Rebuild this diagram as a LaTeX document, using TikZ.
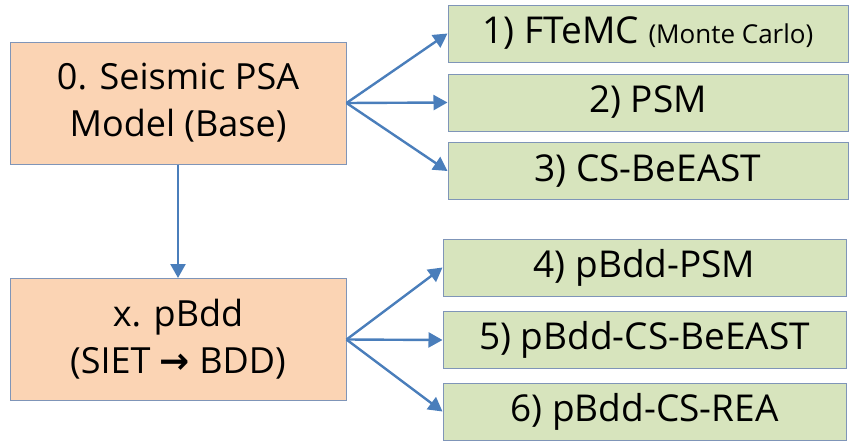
\documentclass[tikz,border=0pt]{standalone}
\usepackage{fontspec}
\setmainfont{Open Sans}
\newfontfamily\arrowfont{DejaVu Sans}
\usetikzlibrary{arrows.meta}
\definecolor{peach}{HTML}{FBD4B4}
\definecolor{sage}{HTML}{D7E4BD}
\definecolor{edgeblue}{HTML}{7F95B8}
\definecolor{arrowblue}{HTML}{4A7EBB}
\begin{document}
\begin{tikzpicture}[x=1pt,y=-1pt,
        model/.style={draw=edgeblue,fill=peach,line width=1pt,minimum width=336pt,
            minimum height=122pt,align=center,font=\fontsize{36}{47}\selectfont},
        method/.style={draw=edgeblue,fill=sage,line width=1pt,minimum height=57pt,
            inner sep=0pt,font=\fontsize{37}{40}\selectfont},
        flow/.style={draw=arrowblue,line width=2.4pt,-{Triangle[length=14pt,width=15pt]}}]
        \useasboundingbox (0,0) rectangle (856,447);
        % base model and its three methods
        \node[model] (base) at (178,103) {0. Seismic PSA\\Model (Base)};
        \begin{scope}[every node/.style={method,minimum width=400pt}]
            \node (m1) at (648,33.5) {1) FTeMC {\fontsize{26}{28}\selectfont (Monte Carlo)}};
            \node (m2) at (648,102.5) {2) PSM};
            \node (m3) at (648,171) {3) CS-BeEAST};
        \end{scope}
        % pBdd model and its three methods
        \node[model] (pbdd) at (178,339.5) {x. pBdd\\(SIET {\arrowfont\bfseries →} BDD)};
        \begin{scope}[every node/.style={method,minimum width=403pt}]
            \node (m4) at (644.5,267.5) {4) pBdd-PSM};
            \node (m5) at (644.5,340) {5) pBdd-CS-BeEAST};
            \node (m6) at (644.5,411.5) {6) pBdd-CS-REA};
        \end{scope}
        \draw[flow] (base) -- (pbdd);
        \foreach \m in {m1,m2,m3}
            \draw[flow] (base.east) -- (\m.west);
        \foreach \m in {m4,m5,m6}
            \draw[flow] (pbdd.east) -- (\m.west);
    \end{tikzpicture}
\end{document}
